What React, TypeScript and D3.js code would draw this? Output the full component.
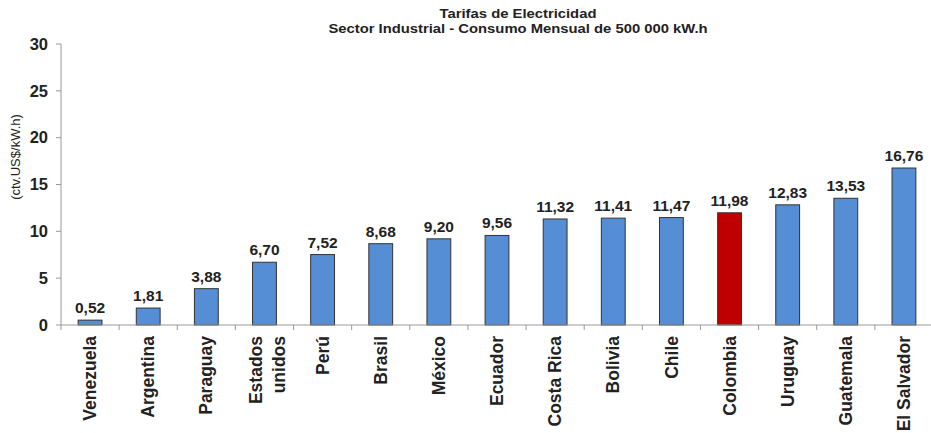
import React from "react";
import * as d3 from "d3";

const categories = ["Venezuela", "Argentina", "Paraguay", "Estados\nunidos", "Perú", "Brasil", "México", "Ecuador", "Costa Rica", "Bolivia", "Chile", "Colombia", "Uruguay", "Guatemala", "El Salvador"];
const values = [0.52, 1.81, 3.88, 6.7, 7.52, 8.68, 9.2, 9.56, 11.32, 11.41, 11.47, 11.98, 12.83, 13.53, 16.76];
const highlight = ["Colombia"];
const yTicks = [0, 5, 10, 15, 20, 25, 30];
const titleLines = ["Tarifas de Electricidad", "Sector Industrial - Consumo  Mensual de 500 000 kW.h"];
const yLabel = "(ctv.US$/kW.h)";

export default function App() {
  const W = 931, H = 433;
  const left = 61, right = 933, top = 44, bottom = 325;
  const x = d3.scaleBand<string>().domain(categories).range([left, right]).paddingInner(0.59).paddingOuter(0.295);
  const xb = d3.scaleBand<string>().domain(categories).range([left, right]).padding(0);
  const y = d3.scaleLinear().domain([0, 30]).range([bottom, top]);
  const font = "Arial, 'Liberation Sans', sans-serif";
  const fmt = (v: number) => v.toFixed(2).replace(".", ",");
  return (
    <svg width={W} height={H} style={{ position: "absolute", left: 0, top: 0, background: "#fff" }} fontFamily={font}>
      <rect width={W} height={H} fill="#fff" />
      {titleLines.map((t, i) => (
        <text key={i} transform={`translate(518,${18 + i * 15}) scale(1.14,1)`} textAnchor="middle" fontSize={13} fontWeight="bold" fill="#222">{t}</text>
      ))}
      <text transform={`translate(20,${157}) rotate(-90)`} textAnchor="middle" fontSize={13} fill="#222">{yLabel}</text>
      {/* y axis */}
      <line x1={left} x2={left} y1={top} y2={bottom} stroke="#999" />
      {yTicks.map((t) => (
        <g key={t}>
          <line x1={left - 5} x2={left} y1={y(t)} y2={y(t)} stroke="#999" />
          <text x={48} y={y(t)} dy="0.35em" textAnchor="end" fontSize={16.5} fontWeight="bold" fill="#222">{t}</text>
        </g>
      ))}
      {/* bars */}
      {categories.map((c, i) => (
        <g key={c}>
          <rect x={x(c)} y={y(values[i])} width={x.bandwidth()} height={y(0) - y(values[i])}
            fill={highlight.includes(c) ? "#C00000" : "#558ED5"} stroke="#333" strokeWidth={1} />
          <text x={(x(c) as number) + x.bandwidth() / 2} y={y(values[i]) - 7} textAnchor="middle" fontSize={15.5} fontWeight="bold" fill="#222">{fmt(values[i])}</text>
        </g>
      ))}
      {/* x axis */}
      <line x1={left} x2={right} y1={bottom} y2={bottom} stroke="#999" />
      {categories.map((c) => (
        <line key={"t" + c} x1={xb(c)} x2={xb(c)} y1={bottom} y2={bottom + 5} stroke="#999" />
      ))}
      {categories.map((c) => {
        const lines = c.split("\n");
        const cx = (xb(c) as number) + xb.bandwidth() / 2 + (lines.length > 1 ? 3 : 0);
        return (
          <text key={"l" + c} transform={`translate(${cx},${336}) rotate(-90)`} textAnchor="end" fontSize={17.5} fontWeight="bold" fill="#222">
            {lines.map((l, j) => (
              <tspan key={j} x={0} y={(j - (lines.length - 1) / 2) * 23} dy="0.35em">{l}</tspan>
            ))}
          </text>
        );
      })}
    </svg>
  );
}
